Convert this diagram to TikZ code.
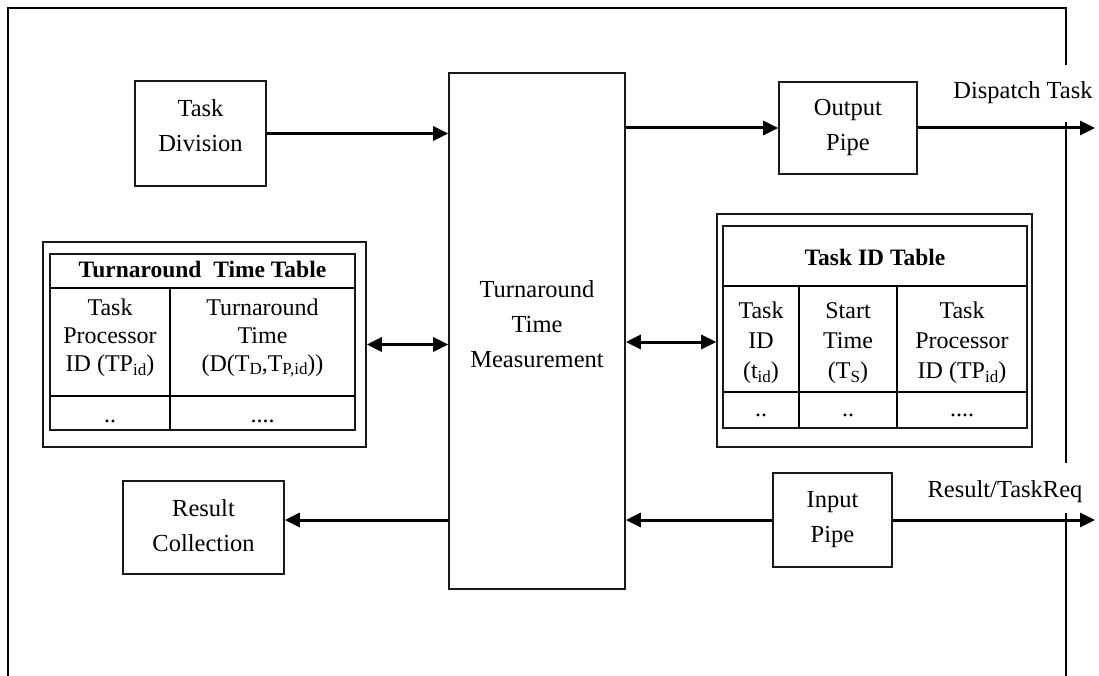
\documentclass[tikz,border=0pt]{standalone}
\usepackage{fontspec}
\setmainfont{Liberation Serif}
\usetikzlibrary{arrows.meta}
\newcommand\sbs[1]{\raisebox{-0.35ex}{\fontsize{17}{17}\selectfont #1}}
\begin{document}
\begin{tikzpicture}[x=1pt,y=-1pt,
  box/.style={draw=black!90,line width=1.6pt,inner sep=0pt},
  txt/.style={align=center,inner sep=0pt,font=\fontsize{24.5}{35}\selectfont},
  ttxt/.style={align=center,inner sep=0pt,font=\fontsize{24}{28}\selectfont},
  itxt/.style={align=center,inner sep=0pt,font=\fontsize{24}{30}\selectfont},
  htxt/.style={inner sep=0pt,anchor=base,font=\fontsize{23.5}{28}\selectfont\bfseries},
  arr/.style={line width=3pt,-{Triangle[length=15pt,width=14pt]}},
  darr/.style={line width=3pt,{Triangle[length=15pt,width=14pt]}-{Triangle[length=15pt,width=14pt]}},
  framel/.style={line width=1.6pt},
  tline/.style={line width=1.6pt}]
\useasboundingbox (0,0) rectangle (1099,676);

% outer frame
\draw[framel] (8,676) -- (8,8) -- (1066,8) -- (1066,65);
\draw[framel] (1066,122) -- (1066,463);
\draw[framel] (1066,513) -- (1066,676);

% boxes
\node[box,minimum width=131pt,minimum height=105pt] (td) at (200.5,133.5) {};
\node[txt] (tdt) at (200.5,126) {Task\\Division};

\node[box,minimum width=176pt,minimum height=516pt] (ttm) at (537,331) {};
\node[txt] (ttmt) at (537,324) {Turnaround\\Time\\Measurement};

\node[box,minimum width=138pt,minimum height=92pt] (op) at (848,128) {};
\node[txt] (opt) at (848,127) {Output\\Pipe};

\node[box,minimum width=119pt,minimum height=94pt] (ip) at (832.5,520) {};
\node[txt] (ipt) at (832.5,520) {Input\\Pipe};

\node[box,minimum width=161pt,minimum height=93pt] (rc) at (203.5,527.5) {};
\node[txt] (rct) at (203.5,526) {Result\\Collection};

% Turnaround time table
\node[box,minimum width=323pt,minimum height=205pt] (tto) at (204.5,344.5) {};
\node[box,minimum width=305pt,minimum height=176pt] (tti) at (202.5,342) {};
\draw[tline] (50,288) -- (355,288);
\draw[tline] (50,396) -- (355,396);
\draw[tline] (170,288) -- (170,430);
\node[htxt] (tth) at (202.5,277) {Turnaround\ \ Time Table};
\node[ttxt] (ttc1) at (110,338) {Task\\Processor\\ID (TP\sbs{id})};
\node[ttxt] (ttc2) at (262.5,338) {Turnaround\\Time\\(D(T\sbs{D},T\sbs{P,id}))};
\node[ttxt,anchor=base] (ttd1) at (110,422) {..};
\node[ttxt,anchor=base] (ttd2) at (262.5,422) {....};

% Task ID table
\node[box,minimum width=315pt,minimum height=233pt] (tid) at (874.5,330.5) {};
\node[box,minimum width=304pt,minimum height=202pt] (tidi) at (875,327) {};
\draw[tline] (723,286) -- (1027,286);
\draw[tline] (723,392) -- (1027,392);
\draw[tline] (799,286) -- (799,428);
\draw[tline] (897,286) -- (897,428);
\node[htxt] (tidh) at (875,265) {Task ID Table};
\node[itxt] (tic1) at (761,343) {Task\\ID\\(t\sbs{id})};
\node[itxt] (tic2) at (848,343) {Start\\Time\\(T\sbs{S})};
\node[itxt] (tic3) at (962,343) {Task\\Processor\\ID (TP\sbs{id})};
\node[itxt,anchor=base] (tid1) at (761,416) {..};
\node[itxt,anchor=base] (tid2) at (848,416) {..};
\node[itxt,anchor=base] (tid3) at (962,416) {....};

% labels
\node[txt,anchor=base] (dl) at (1023,99) {Dispatch Task};
\node[txt,anchor=base] (rl) at (1005,497) {Result/TaskReq};

% connectors
\coordinate (dend) at (1095,128);
\coordinate (rend) at (1095,520);
\coordinate (tidp) at ([yshift=-11.5pt]tid.west);
\draw[arr] (td.east) -- (td.east -| ttm.west);
\draw[arr] (ttm.east |- op.west) -- (op.west);
\draw[arr] (op.east) -- (dend);
\draw[darr] (tto.east) -- (tto.east -| ttm.west);
\draw[darr] (ttm.east |- tidp) -- (tidp);
\draw[arr] (ip.west) -- (ip.west -| ttm.east);
\draw[arr] (ip.east) -- (rend);
\draw[arr] (ttm.west |- ip.west) -- (rc.east |- ip.west);
\end{tikzpicture}
\end{document}
